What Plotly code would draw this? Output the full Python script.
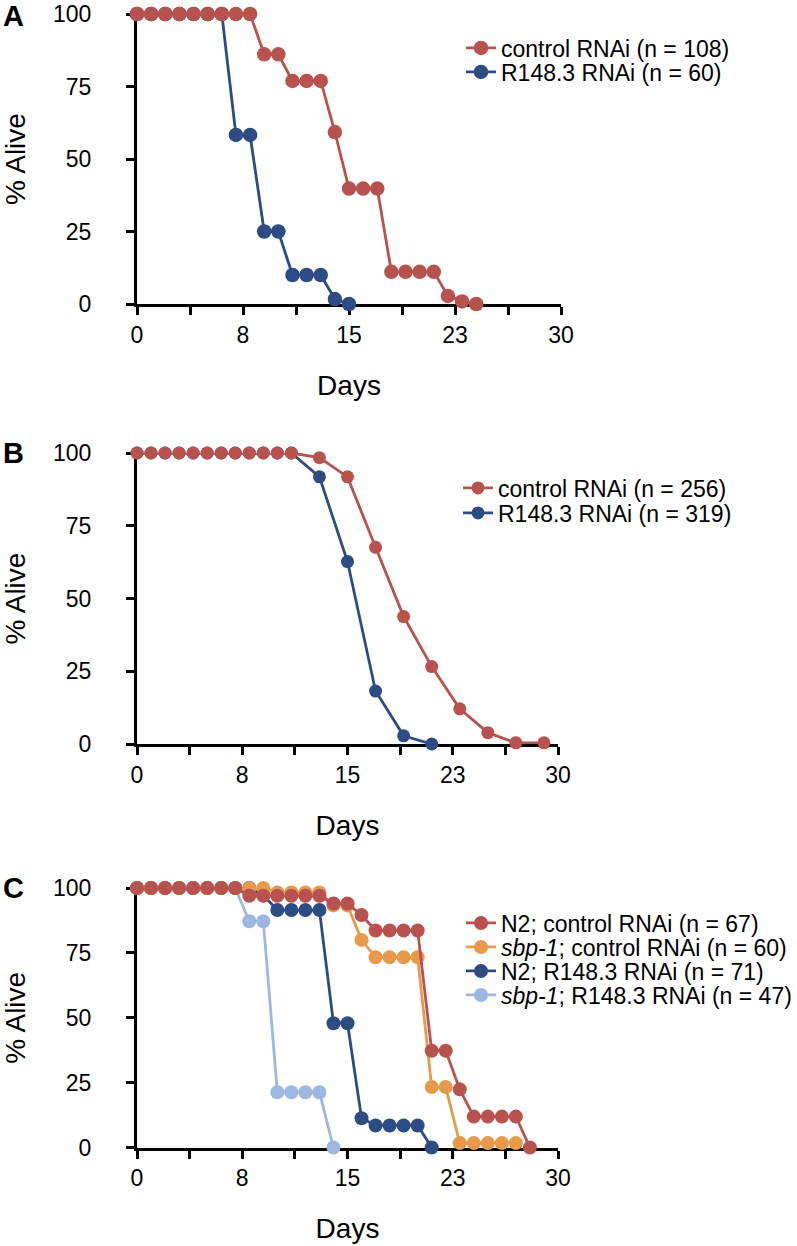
import plotly.graph_objects as go

# ---------------- data ----------------
x_tickvals = [0, 3.75, 7.5, 11.25, 15, 18.75, 22.5, 26.25, 30]
x_ticktext = ["0", "", "8", "", "15", "", "23", "", "30"]
y_tickvals = [0, 25, 50, 75, 100]

# Panel A
A_ctrl_days = [0, 1, 2, 3, 4, 5, 6, 7, 8, 9, 10, 11, 12, 13, 14, 15, 16, 17, 18, 19, 20, 21, 22, 23, 24]
A_ctrl_alive = [100, 100, 100, 100, 100, 100, 100, 100, 100, 86.1, 86.1, 76.9, 76.9, 76.9, 59.3,
                39.8, 39.8, 39.8, 11.1, 11.1, 11.1, 11.1, 2.8, 0.9, 0]
A_r148_days = [0, 1, 2, 3, 4, 5, 6, 7, 8, 9, 10, 11, 12, 13, 14, 15]
A_r148_alive = [100, 100, 100, 100, 100, 100, 100, 58.3, 58.3, 25, 25, 10, 10, 10, 1.7, 0]

# Panel B
B_ctrl_days = [0, 1, 2, 3, 4, 5, 6, 7, 8, 9, 10, 11, 13, 15, 17, 19, 21, 23, 25, 27, 29]
B_ctrl_alive = [100, 100, 100, 100, 100, 100, 100, 100, 100, 100, 100, 100, 98.4, 91.8, 67.6,
                43.8, 26.6, 12.1, 3.9, 0.4, 0.4]
B_r148_days = [0, 1, 2, 3, 4, 5, 6, 7, 8, 9, 10, 11, 13, 15, 17, 19, 21]
B_r148_alive = [100, 100, 100, 100, 100, 100, 100, 100, 100, 100, 100, 100, 91.8, 62.7, 18.2, 2.8, 0]

# Panel C
C_n2_ctrl_days = [0, 1, 2, 3, 4, 5, 6, 7, 8, 9, 10, 11, 12, 13, 14, 15, 16, 17, 18, 19, 20,
                  21, 22, 23, 24, 25, 26, 27, 28]
C_n2_ctrl_alive = [100, 100, 100, 100, 100, 100, 100, 100, 97.0, 97.0, 97.0, 97.0, 97.0, 97.0,
                   94.0, 94.0, 89.6, 83.6, 83.6, 83.6, 83.6, 37.3, 37.3, 22.4, 11.9, 11.9, 11.9, 11.9, 0]
C_sbp_ctrl_days = [0, 1, 2, 3, 4, 5, 6, 7, 8, 9, 10, 11, 12, 13, 14, 15, 16, 17, 18, 19, 20,
                   21, 22, 23, 24, 25, 26, 27]
C_sbp_ctrl_alive = [100, 100, 100, 100, 100, 100, 100, 100, 100, 100, 98.3, 98.3, 98.3, 98.3,
                    93.3, 93.3, 80.0, 73.3, 73.3, 73.3, 73.3, 23.3, 23.3, 1.7, 1.7, 1.7, 1.7, 1.7]
C_n2_r148_days = [0, 1, 2, 3, 4, 5, 6, 7, 8, 9, 10, 11, 12, 13, 14, 15, 16, 17, 18, 19, 20, 21]
C_n2_r148_alive = [100, 100, 100, 100, 100, 100, 100, 100, 100, 97.2, 91.5, 91.5, 91.5, 91.5,
                   47.9, 47.9, 11.3, 8.5, 8.5, 8.5, 8.5, 0]
C_sbp_r148_days = [0, 1, 2, 3, 4, 5, 6, 7, 8, 9, 10, 11, 12, 13, 14]
C_sbp_r148_alive = [100, 100, 100, 100, 100, 100, 100, 100, 87.2, 87.2, 21.3, 21.3, 21.3, 21.3, 0]

# ---------------- styling ----------------
RED = "#B8524E"
BLUE = "#2E4C84"
ORANGE = "#E8994A"
LIGHT = "#9BB7E2"
FONT = "Arial, Liberation Sans, sans-serif"

W, H = 797, 1246


def py(px):
    return 1 - px / H


def pxx(px):
    return px / W


fig = go.Figure()


def add(x, y, name, color, size, axis, legend):
    fig.add_trace(go.Scatter(
        x=x, y=y, name=name, mode="lines+markers",
        line=dict(color=color, width=2.8),
        marker=dict(color=color, size=size),
        xaxis="x" + axis, yaxis="y" + axis,
        legend=legend, cliponaxis=False, showlegend=True,
    ))


# drawing order: bottom first
add(A_r148_days, A_r148_alive, "R148.3 RNAi (n = 60)", BLUE, 14.5, "", "legend2")
add(A_ctrl_days, A_ctrl_alive, "control RNAi (n = 108)", RED, 14.5, "", "legend")
add(B_r148_days, B_r148_alive, "R148.3 RNAi (n = 319)", BLUE, 13, "2", "legend4")
add(B_ctrl_days, B_ctrl_alive, "control RNAi (n = 256)", RED, 13, "2", "legend3")
add(C_sbp_r148_days, C_sbp_r148_alive, "<i>sbp-1</i>; R148.3 RNAi (n = 47)", LIGHT, 14, "3", "legend8")
add(C_n2_r148_days, C_n2_r148_alive, "N2; R148.3 RNAi (n = 71)", BLUE, 14, "3", "legend7")
add(C_sbp_ctrl_days, C_sbp_ctrl_alive, "<i>sbp-1</i>; control RNAi (n = 60)", ORANGE, 14, "3", "legend6")
add(C_n2_ctrl_days, C_n2_ctrl_alive, "N2; control RNAi (n = 67)", RED, 14, "3", "legend5")

panels = {
    "": dict(xd=[137, 561], yd=[14, 304]),
    "2": dict(xd=[137, 558], yd=[453, 744]),
    "3": dict(xd=[137, 558], yd=[888, 1147.5]),
}

layout = dict(
    width=W, height=H,
    margin=dict(l=0, r=0, t=0, b=0, autoexpand=False),
    paper_bgcolor="white", plot_bgcolor="white",
    font=dict(family=FONT, color="black"),
)

for key, p in panels.items():
    axis_common = dict(
        showline=True, linecolor="black", linewidth=3,
        ticks="outside", ticklen=8, tickwidth=3, tickcolor="black",
        showgrid=False, zeroline=False, layer="below traces",
        tickfont=dict(family=FONT, size=23, color="black"),
        fixedrange=True, automargin=False,
    )
    layout["xaxis" + key] = dict(
        axis_common,
        domain=[pxx(p["xd"][0]), pxx(p["xd"][1])],
        range=[0, 30], tickvals=x_tickvals, ticktext=x_ticktext,
        anchor="y" + key,
        title=dict(text="Days", font=dict(family=FONT, size=28, color="black"), standoff=29),
    )
    layout["yaxis" + key] = dict(
        axis_common,
        domain=[py(p["yd"][1]), py(p["yd"][0])],
        range=[0, 100], tickvals=y_tickvals,
        anchor="x" + key,
        ticklabelstandoff=30,
        title=dict(text="% Alive", font=dict(family=FONT, size=28, color="black"), standoff=20),
    )

legend_pos = {
    "legend": (461, 48), "legend2": (461, 72),
    "legend3": (458, 488), "legend4": (458, 513),
    "legend5": (461, 923), "legend6": (461, 947), "legend7": (461, 971), "legend8": (461, 995),
}
for name, (lx, ly) in legend_pos.items():
    layout[name] = dict(
        x=pxx(lx), y=py(ly), xanchor="left", yanchor="middle",
        xref="paper", yref="paper",
        bgcolor="rgba(0,0,0,0)", borderwidth=0,
        font=dict(family=FONT, size=23, color="black"),
        itemclick=False, itemdoubleclick=False,
    )

fig.update_layout(**layout)

for letter, ypx in [("A", 16), ("B", 453), ("C", 888)]:
    fig.add_annotation(
        text="<b>%s</b>" % letter, x=pxx(13), y=py(ypx), xref="paper", yref="paper",
        xanchor="center", yanchor="middle", showarrow=False,
        font=dict(family=FONT, size=29, color="black"),
    )

fig.write_html("out.html", config={"displayModeBar": False},
               post_script="document.body.style.margin='0';")
